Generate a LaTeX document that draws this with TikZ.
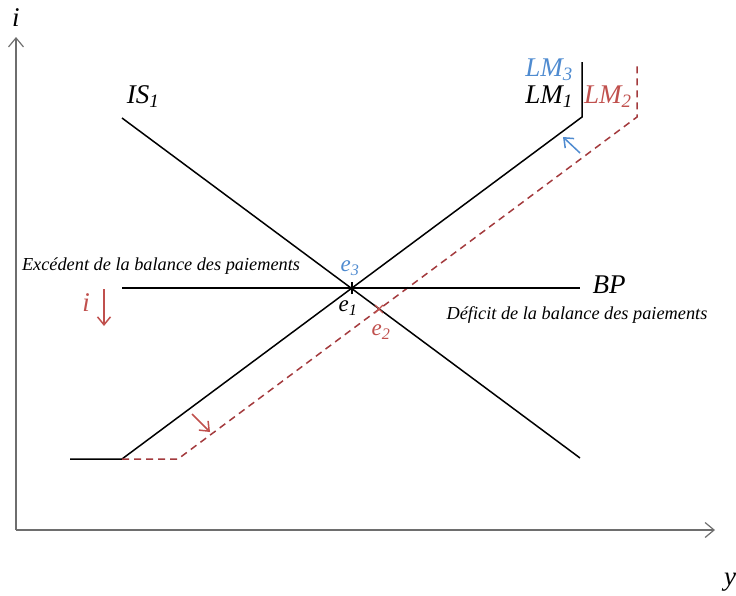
\documentclass[tikz,border=0pt]{standalone}
\usepackage{fontspec}
\setmainfont{Liberation Serif}
\usetikzlibrary{arrows.meta}
\definecolor{axisgray}{HTML}{6E6E6E}
\definecolor{lblred}{HTML}{C0504D}
\definecolor{dashred}{HTML}{A33A3D}
\definecolor{lblblue}{HTML}{4F8BD0}
\tikzset{
  axis/.style={draw=axisgray, line width=1.2pt, -{Straight Barb[length=9pt,width=15pt]}},
  curve/.style={draw=black, line width=1.5pt},
  dashcurve/.style={draw=dashred, line width=1.5pt, dash pattern=on 7pt off 5pt},
  biglabel/.style={font=\fontsize{27}{29}\selectfont\itshape, inner sep=0pt},
  ptlabel/.style={font=\fontsize{23}{25}\selectfont\itshape, inner sep=0pt},
  note/.style={font=\fontsize{18.3}{20}\selectfont\itshape, inner sep=0pt},
  shiftarrow/.style={line width=1.5pt, -{Straight Barb[length=8pt,width=13pt]}}
}
\begin{document}
\begin{tikzpicture}[x=1pt,y=-1pt]
\useasboundingbox (0,0) rectangle (736,595);
% axes
\coordinate (O) at (16,530);
\coordinate (ytop) at (16,37);
\coordinate (xend) at (715,530);
\draw[axis] (O) -- (ytop);
\draw[axis] (O) -- (xend);
\node[biglabel] (ilab) at (16,18) {i};
\node[biglabel] (ylab) at (730,582) {y};
% IS1
\coordinate (is1a) at (122,118);
\coordinate (is1b) at (580,458);
\draw[curve] (is1a) -- (is1b);
\node[biglabel] (IS) at (143,97) {IS\textsubscript{1}};
% LM1
\coordinate (lm1a) at (70,459);
\coordinate (lm1b) at (122,459);
\coordinate (lm1c) at (582,117);
\coordinate (lm1d) at (582,62);
\draw[curve] (lm1a) -- (lm1b) -- (lm1c) -- (lm1d);
\node[biglabel, anchor=east] (LMone) at (573,97) {LM\textsubscript{1}};
\node[biglabel, anchor=east, text=lblblue] (LMthree) at (573,70) {LM\textsubscript{3}};
% LM2
\coordinate (lm2a) at (122,459);
\coordinate (lm2b) at (178,459);
\coordinate (lm2c) at (637,117);
\coordinate (lm2d) at (637,64);
\draw[dashcurve] (lm2a) -- (lm2b) -- (lm2c) -- (lm2d);
\node[biglabel, anchor=west, text=lblred] (LMtwo) at (584,97) {LM\textsubscript{2}};
% BP
\coordinate (bpa) at (122,288);
\coordinate (bpb) at (580,288);
\draw[curve] (bpa) -- (bpb);
\node[biglabel] (BP) at (609,285) {BP};
% equilibria
\coordinate (e1) at (352,288);
\coordinate (e2) at (379,309);
\draw[line width=1.3pt] ([yshift=-6pt]e1) -- ([yshift=6pt]e1);
\draw[lblred, line width=1.3pt] ([xshift=-4pt,yshift=-4pt]e2) -- ([xshift=4pt,yshift=4pt]e2)
  ([xshift=-4pt,yshift=4pt]e2) -- ([xshift=4pt,yshift=-4pt]e2);
\node[ptlabel] (e1lab) at (348,308) {e\textsubscript{1}};
\node[ptlabel, text=lblblue] (e3lab) at (350,268) {e\textsubscript{3}};
\node[ptlabel, text=lblred] (e2lab) at (381,332) {e\textsubscript{2}};
% notes
\node[note] (exc) at (161,266) {Excédent de la balance des paiements};
\node[note] (def) at (577,315) {Déficit de la balance des paiements};
% shift arrows
\coordinate (ba1) at (580,153);
\coordinate (ba2) at (563,137);
\draw[shiftarrow, lblblue] (ba1) -- (ba2);
\coordinate (ra1) at (192,414);
\coordinate (ra2) at (210,432);
\draw[shiftarrow, lblred] (ra1) -- (ra2);
% interest rate fall
\node[biglabel, text=lblred] (idown) at (86,303) {i};
\coordinate (ia1) at (104,289);
\coordinate (ia2) at (104,326);
\draw[shiftarrow, lblred] (ia1) -- (ia2);
\end{tikzpicture}
\end{document}
